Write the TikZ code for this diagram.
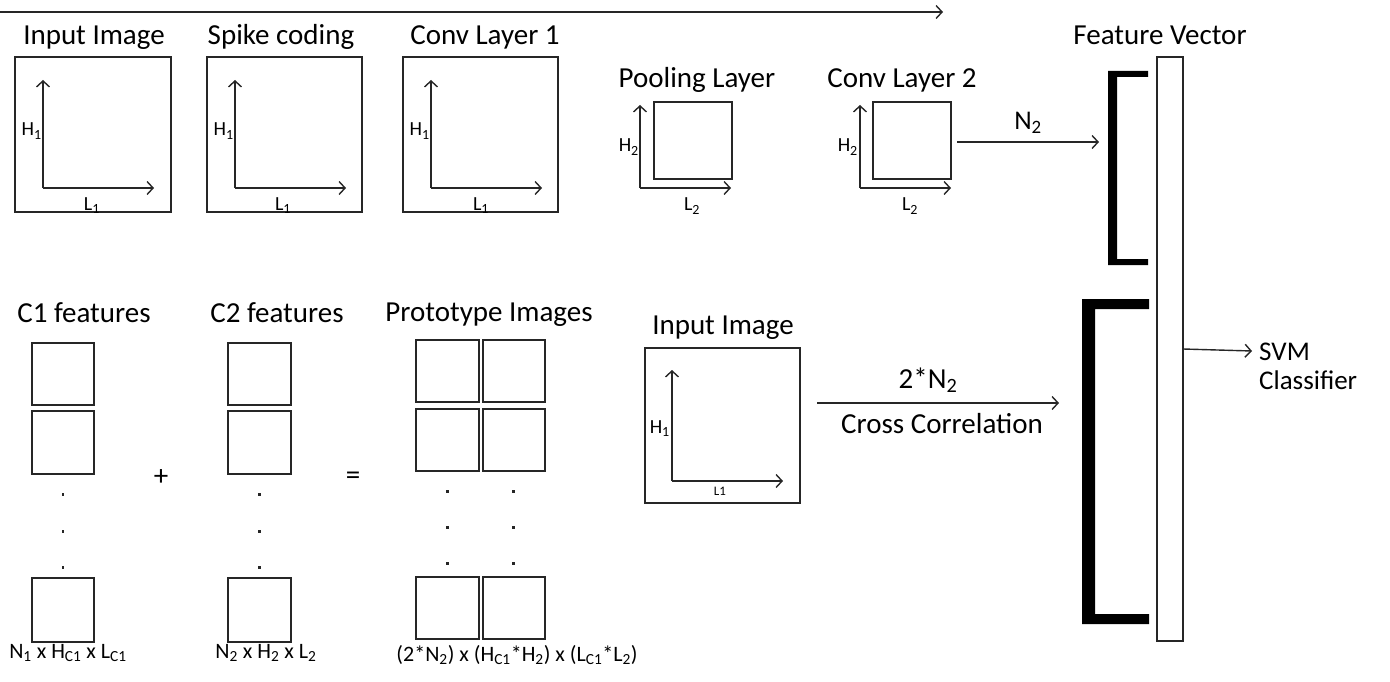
\documentclass[tikz,border=0pt]{standalone}
\usepackage{fontspec}
\setmainfont{Carlito}
\usetikzlibrary{arrows.meta}
\newcommand\pbox[5]{\node[box,minimum width=#4pt-#2pt,minimum height=#5pt-#3pt] (#1) at ({(#2+#4)/2},{(#3+#5)/2}) {};}
\newcommand\axes[6]{% name, ox, oy, topy, rightx
  \coordinate (#1o) at (#2,#3);
  \coordinate (#1t) at (#2,#4);
  \coordinate (#1r) at (#5,#3);
  \draw[arr] (#1o) -- (#1t);
  \draw[arr] (#1o) -- (#1r);}
\begin{document}
\begin{tikzpicture}[x=1pt,y=-1pt,
  box/.style={draw=black!85,line width=1.4pt,inner sep=0pt,outer sep=0pt},
  arr/.style={draw=black!85,line width=1.4pt,-{Straight Barb[length=6pt,width=13pt,line width=1.4pt]}},
  ttl/.style={inner sep=0pt,anchor=base,font=\fontsize{29}{34}\selectfont},
  ax/.style={inner sep=0pt,font=\fontsize{20}{24}\selectfont},
  dim/.style={inner sep=0pt,anchor=base,font=\fontsize{22}{26}\selectfont},
  brk/.style={fill=black},
  dot/.style={fill=black!85}]
\useasboundingbox (0,0) rectangle (1390,682);

% top flow arrow
\coordinate (ts) at (0,12);
\coordinate (te) at (943,12);
\draw[arr] (ts) -- (te);

% top row titles
\node[ttl] (t1) at (94,45) {Input Image};
\node[ttl] (t2) at (281,45) {Spike coding};
\node[ttl] (t3) at (485,45) {Conv Layer 1};
\node[ttl] (t4) at (697,88) {Pooling Layer};
\node[ttl] (t5) at (902,88) {Conv Layer 2};
\node[ttl] (t6) at (1160,45) {Feature Vector};

% top row boxes
\pbox{b1}{15}{57}{171}{212}
\axes{a1}{43}{188}{80}{154}{}
\node[ax,anchor=base east] (h1) at (42,136) {H\textsubscript{1}};
\node[ax,anchor=base] (l1) at (92,210) {L\textsubscript{1}};

\pbox{b2}{207}{57}{362}{212}
\axes{a2}{235}{188}{80}{346}{}
\node[ax,anchor=base east] (h2) at (234,136) {H\textsubscript{1}};
\node[ax,anchor=base] (l2) at (283,210) {L\textsubscript{1}};

\pbox{b3}{403}{57}{558}{212}
\axes{a3}{431}{188}{80}{542}{}
\node[ax,anchor=base east] (h3) at (430,136) {H\textsubscript{1}};
\node[ax,anchor=base] (l3) at (481,210) {L\textsubscript{1}};

\pbox{bp}{654}{102}{732}{179}
\axes{ap}{640}{188}{105}{731}{}
\node[ax,anchor=base east] (hp) at (639,152) {H\textsubscript{2}};
\node[ax,anchor=base] (lp) at (692,211) {L\textsubscript{2}};

\pbox{bc}{873}{102}{951}{179}
\axes{ac}{860}{188}{105}{951}{}
\node[ax,anchor=base east] (hc) at (858,152) {H\textsubscript{2}};
\node[ax,anchor=base] (lc) at (910,211) {L\textsubscript{2}};

% N2 arrow
\coordinate (n2s) at (957,142);
\coordinate (n2e) at (1099,142);
\draw[arr] (n2s) -- (n2e);
\node[ttl,font=\fontsize{27}{32}\selectfont] (n2) at (1028,130) {N\textsubscript{2}};

% feature vector bar and brackets
\pbox{fv}{1157}{57}{1183}{641}
\fill[brk] (1108,71) -- (1148,71) -- (1148,77) -- (1117,77) -- (1117,259) -- (1148,259) -- (1148,265) -- (1108,265) -- cycle;
\fill[brk] (1082,299) -- (1149,299) -- (1149,309) -- (1095,309) -- (1095,614) -- (1149,614) -- (1149,624) -- (1082,624) -- cycle;

% SVM
\node[inner sep=0pt,anchor=base west,font=\fontsize{27}{31}\selectfont] (svm) at (1259,360) {SVM};
\node[inner sep=0pt,anchor=base west,font=\fontsize{27}{31}\selectfont] (cls) at (1259,389) {Classifier};
\coordinate (svs) at (1183,349);
\coordinate (sve) at (1252,351);
\draw[arr] (svs) -- (sve);

% bottom input image
\node[ttl] (t10) at (723,334) {Input Image};
\pbox{bi}{645}{348}{800}{503}
\axes{ai}{672}{481}{370}{783}{}
\node[ax,anchor=base east] (hi) at (670,433) {H\textsubscript{1}};
\node[inner sep=0pt,anchor=base,font=\fontsize{13}{15}\selectfont] (li) at (720,495) {L1};

% cross correlation arrow
\coordinate (ccs) at (817,403);
\coordinate (cce) at (1059,403);
\draw[arr] (ccs) -- (cce);
\node[ttl] (n22) at (928,388) {2*N\textsubscript{2}};
\node[ttl] (ccl) at (942,433) {Cross Correlation};

% C1 features
\node[ttl] (t7) at (84,322) {C1 features};
\pbox{c1a}{32}{343}{94}{405}
\pbox{c1b}{32}{411}{94}{474}
\pbox{c1c}{32}{578}{94}{642}
\foreach \yy in {493,530,566} \fill[dot] (61.5,\yy) rectangle (64,\yy+2.5);
\node[dim] (d1) at (68,658) {N\textsubscript{1} x H\textsubscript{C1} x L\textsubscript{C1}};

\node[ttl,anchor=center] (plus) at (161,478) {+};

% C2 features
\node[ttl] (t8) at (277,322) {C2 features};
\pbox{c2a}{228}{343}{291}{405}
\pbox{c2b}{228}{411}{291}{474}
\pbox{c2c}{228}{578}{291}{642}
\foreach \yy in {493,530,566} \fill[dot] (258,\yy) rectangle (260.5,\yy+2.5);
\node[dim] (d2) at (266,658) {N\textsubscript{2} x H\textsubscript{2} x L\textsubscript{2}};

\node[ttl,anchor=center] (eq) at (353,478) {=};

% prototype images
\node[ttl] (t9) at (489,321) {Prototype Images};
\pbox{p1}{416}{340}{479}{402}
\pbox{p2}{483}{340}{545}{402}
\pbox{p3}{416}{409}{479}{471}
\pbox{p4}{483}{409}{545}{471}
\pbox{p5}{416}{577}{479}{639}
\pbox{p6}{483}{577}{545}{639}
\foreach \yy in {490,526,562} {\fill[dot] (446,\yy) rectangle (448.5,\yy+2.5); \fill[dot] (512,\yy) rectangle (514.5,\yy+2.5);}
\node[dim] (d3) at (517,661) {(2*N\textsubscript{2}) x (H\textsubscript{C1}*H\textsubscript{2}) x (L\textsubscript{C1}*L\textsubscript{2})};
\end{tikzpicture}
\end{document}
